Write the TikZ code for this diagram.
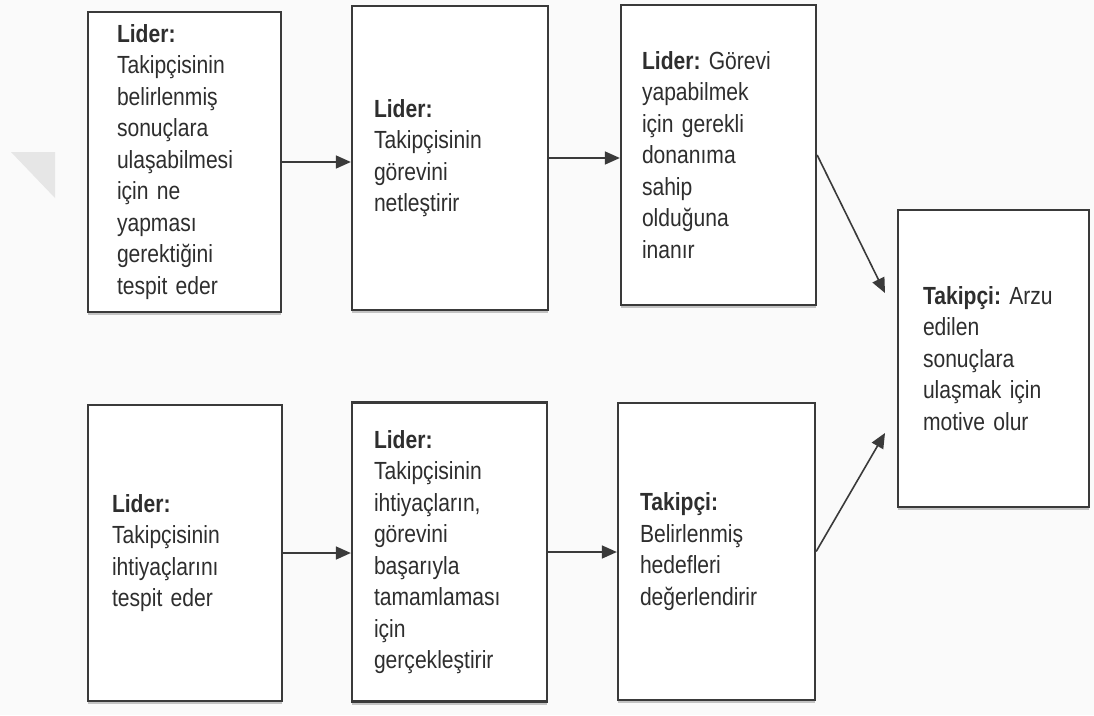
\documentclass[tikz,border=0pt]{standalone}
\usepackage{fontspec}
\setmainfont{Liberation Sans}[FakeStretch=0.85,WordSpace=0.8]
\frenchspacing
\usetikzlibrary{arrows.meta,shadows}
\definecolor{ink}{HTML}{3A3A3A}
\definecolor{txt}{HTML}{2E2E2E}
\definecolor{paper}{HTML}{FAFAFA}
\definecolor{markgray}{HTML}{E6E6E6}
\begin{document}
\begin{tikzpicture}[x=1pt,y=-1pt,
  box/.style n args={3}{draw=ink, line width=2.3pt, fill=white,
    minimum width=#1, minimum height=#2, text width=#3, inner xsep=0pt,
    align=left, text=txt, font=\fontsize{24.8}{31.5}\selectfont,
    drop shadow={shadow xshift=0pt, shadow yshift=-3pt, fill=black, opacity=0.22}},
  arr/.style={draw=ink, line width=1.6pt, -{Triangle[length=15pt,width=13pt]}}]
\fill[paper] (0,0) rectangle (1094,715);
\useasboundingbox (0,0) rectangle (1094,715);
\fill[markgray] (11,152) -- (55,152) -- (55,198) -- cycle;

\node[box={193pt}{300pt}{135pt}] (b1) at (184.5,162)
  {\textbf{Lider:}\\Takipçisinin\\belirlenmiş\\sonuçlara\\ulaşabilmesi\\için ne\\yapması\\gerektiğini\\tespit eder};
\node[box={196pt}{304pt}{152pt}] (b2) at (450,158)
  {\textbf{Lider:}\\Takipçisinin\\görevini\\netleştirir};
\node[box={195pt}{300pt}{153pt}] (b3) at (718.5,155)
  {\textbf{Lider:} Görevi\\yapabilmek\\için gerekli\\donanıma\\sahip\\olduğuna\\inanır};
\node[box={191pt}{297pt}{141pt}] (b4) at (993.5,358.5)
  {\textbf{Takipçi:} Arzu\\edilen\\sonuçlara\\ulaşmak için\\motive olur};
\node[box={194pt}{296pt}{146pt}] (b5) at (185,553)
  {\textbf{Lider:}\\Takipçisinin\\ihtiyaçlarını\\tespit eder};
\node[box={195pt}{299pt}{151pt}] (b6) at (449.5,552)
  {\textbf{Lider:}\\Takipçisinin\\ihtiyaçların,\\görevini\\başarıyla\\tamamlaması\\için\\gerçekleştirir};
\node[box={197pt}{297pt}{153pt}] (b7) at (716.5,551.5)
  {\textbf{Takipçi:}\\Belirlenmiş\\hedefleri\\değerlendirir};

\coordinate (t1) at (885,293);
\coordinate (t2) at (885,433);
\draw[arr] (b1.east) -- (b1.east -| b2.west);
\draw[arr] (b2.east) -- (b2.east -| b3.west);
\draw[arr] (b3.east) -- (t1);
\draw[arr] (b5.east) -- (b5.east -| b6.west);
\draw[arr] (b6.east) -- (b6.east -| b7.west);
\draw[arr] (b7.east) -- (t2);
\end{tikzpicture}
\end{document}
